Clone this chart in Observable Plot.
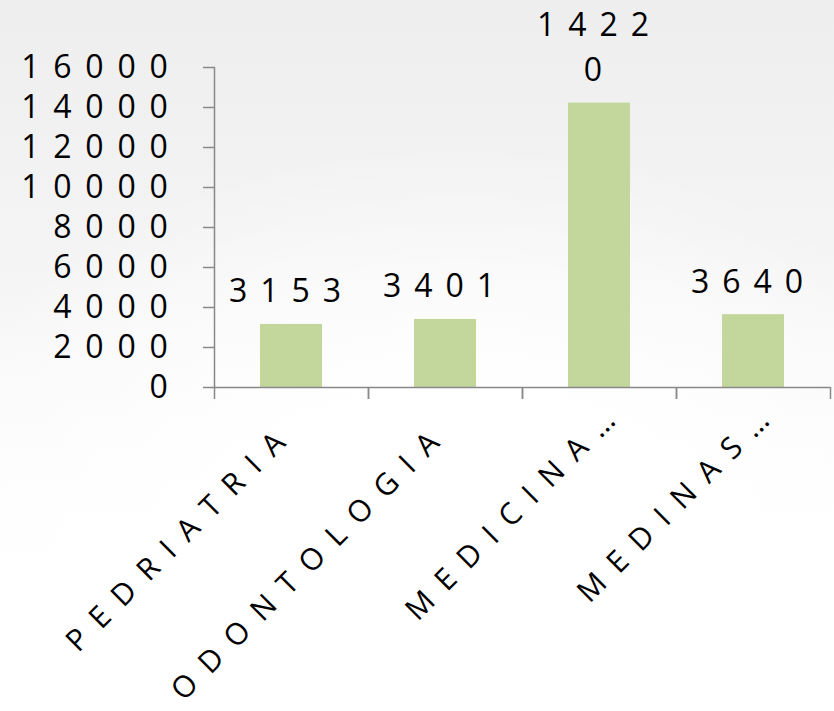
<!DOCTYPE html>
<html>
<head>
<meta charset="utf-8">
<script src="https://cdn.jsdelivr.net/npm/d3@7"></script>
<script src="https://cdn.jsdelivr.net/npm/@observablehq/plot@0.6"></script>
<style>
  html, body { margin: 0; padding: 0; width: 834px; height: 711px; overflow: hidden; }
  body {
    background:
      radial-gradient(ellipse 70% 60% at 55% 80%, rgba(255,255,255,1) 0%, rgba(255,255,255,0.9) 45%, rgba(255,255,255,0) 100%),
      linear-gradient(180deg, #eeeeee 0%, #f4f4f4 35%, #fbfbfb 60%, #ffffff 80%);
  }
  #chart svg { display: block; }
  g[aria-label="y-axis tick label"] text { letter-spacing: 13.75px; }
  g[aria-label="x-axis tick label"] text { letter-spacing: 14.5px; }
  g[aria-label="text"] text { letter-spacing: 13px; }
</style>
</head>
<body>
<div id="chart"></div>
<script>
const categories = ["PEDRIATRIA", "ODONTOLOGIA", "MEDICINA…", "MEDINAS…"];
const values = [3153, 3401, 14220, 3640];
const yTicks = [0, 2000, 4000, 6000, 8000, 10000, 12000, 14000, 16000];
const yDomain = [0, 16000];

const W = 834, H = 711;
const mL = 214, mR = 4, mT = 67, mB = 324;
const step = (W - mL - mR) / categories.length;
const axisColor = "#898989";
const barColor = "#c3d69b";

const data = categories.map((c, i) => ({category: c, value: values[i]}));
const fullNames = categories.filter((c) => !c.endsWith("…"));
const cutNames = categories.filter((c) => c.endsWith("…"));
// data labels wrap after four characters (as the narrow label box does in the original)
const labelText = (v) => {
  const s = String(v);
  return s.length > 4 ? s.slice(0, 4) + "\n" + s.slice(4) : s;
};

const xLabelStyle = {tickSize: 0, tickRotate: -45, label: null, textAnchor: "end", lineAnchor: "middle", fontSize: 30, fill: "#000"};

const chart = Plot.plot({
  width: W,
  height: H,
  marginLeft: mL,
  marginRight: mR,
  marginTop: mT,
  marginBottom: mB,
  style: {background: "transparent", fontFamily: "'Open Sans', sans-serif", color: "#000", overflow: "visible"},
  x: {domain: categories, paddingInner: 0.6, paddingOuter: 0.3, axis: null, label: null},
  y: {domain: yDomain, axis: null, label: null},
  marks: [
    Plot.barY(data, {x: "category", y: "value", fill: barColor}),
    Plot.frame({anchor: "left", stroke: axisColor, strokeWidth: 1.5}),
    Plot.ruleY([0], {stroke: axisColor, strokeWidth: 1.5}),
    Plot.axisY({ticks: yTicks, tickSize: 11, text: null, label: null, stroke: axisColor, strokeWidth: 1.5}),
    Plot.axisY({ticks: yTicks, tickSize: 0, tickPadding: 33, label: null, fontSize: 32, fill: "#000", tickFormat: (d) => String(d)}),
    Plot.ruleX(categories, {x: (d) => d, y1: 0, y2: 0, insetBottom: -12, dx: -step / 2, stroke: axisColor, strokeWidth: 1.5}),
    Plot.ruleX(categories, {x: (d) => d, y1: 0, y2: 0, insetBottom: -12, dx: step / 2, stroke: axisColor, strokeWidth: 1.5}),
    Plot.axisX({...xLabelStyle, ticks: fullNames, tickPadding: 40, dx: -1}),
    Plot.axisX({...xLabelStyle, ticks: cutNames, tickPadding: 18, dx: 21}),
    Plot.text(data, {x: "category", y: "value", text: (d) => labelText(d.value), dy: -22, lineAnchor: "bottom", lineHeight: 1.4, fontSize: 32, fill: "#000"})
  ]
});
document.getElementById("chart").appendChild(chart);
</script>
</body>
</html>
